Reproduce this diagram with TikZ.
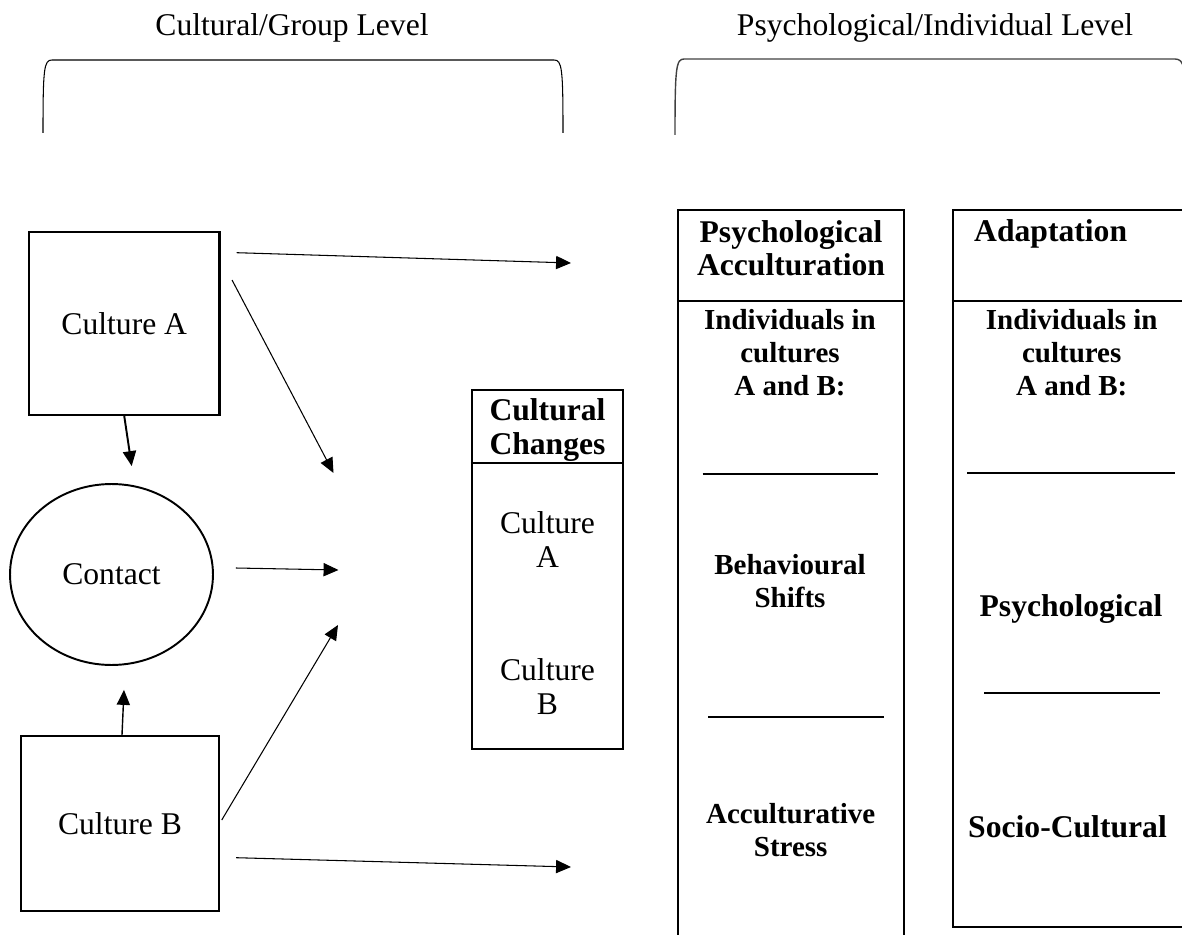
\documentclass[tikz,border=0pt]{standalone}
\usepackage{fontspec}
\setmainfont{Liberation Serif}
\usetikzlibrary{arrows.meta, calc, shapes.geometric}

\begin{document}
\begin{tikzpicture}[x=0.02cm, y=-0.02cm]

\tikzset{lbl/.style = {font=\fontsize{18}{19.3}\selectfont}}
\tikzset{hd/.style = {font=\fontsize{18}{19.3}\selectfont\bfseries, align=center}}
\tikzset{hdsm/.style = {font=\fontsize{16.5}{18.7}\selectfont\bfseries, align=center}}
\tikzset{box/.style = {shape=rectangle, draw, line width=1.2pt, inner sep=0pt}}
\tikzset{edge/.style = {-{Triangle[length=8.5pt,width=7.5pt]}, line width=0.6pt}}
\tikzset{rule/.style = {line width=1.2pt}}
\tikzset{blank/.style = {line width=0.75pt}}
\tikzset{brace/.style = {line width=0.6pt}}

\useasboundingbox (0,0) rectangle (1182,935);

%headings
\node[lbl, anchor=base] (grp) at (292,35.5) {Cultural/Group Level};
\node[lbl, anchor=base] (ind) at (935,36) {Psychological/Individual Level};
%brackets
\draw[brace] (43,133) .. controls (43,68) and (44,60) .. (52,60) -- (554,60)
  .. controls (562,60) and (563,68) .. (563,133);
\draw[brace, black!75, line width=0.8pt] (675,135) .. controls (675,68) and (676,59) .. (684,59)
  -- (1175,59) .. controls (1180,59) and (1182,62) .. (1183,66);

%group level
\node[box, lbl, minimum width=3.81cm, minimum height=3.66cm] (cultA) at (124.25,323.5) {Culture A};
\node[box, lbl, shape=ellipse, line width=1.1pt, minimum width=4.06cm, minimum height=3.62cm] (contact) at (111.5,574.5) {Contact};
\node[box, lbl, minimum width=3.96cm, minimum height=3.5cm] (cultB) at (120,823.5) {Culture B};
\node[box, minimum width=3.02cm, minimum height=7.18cm] (chg) at (547.5,569.5) {};
\draw[rule] ($(chg.north west)+(0,74)$) -- ($(chg.north east)+(0,74)$);
\node[hd] (chgHead) at (547.5,430) {Cultural\\Changes};
\node[lbl, align=center] (chgA) at (547.5,539.8) {Culture\\A};
\node[lbl, align=center] (chgB) at (547.5,686.5) {Culture\\B};

%individual level
\node[box, minimum width=4.52cm, minimum height=14.7cm] (psy) at (791,577.5) {};
\draw[rule] ($(psy.north west)+(0,91.7)$) -- ($(psy.north east)+(0,91.7)$);
\node[hd] (psyHead) at (791,248.2) {Psychological\\Acculturation};
\node[hdsm] (psyInd) at (790,353) {Individuals in\\cultures\\A and B:};
\node[hdsm] (psyBeh) at (790,581.5) {Behavioural\\Shifts};
\node[hdsm] (psyStr) at (790.7,830.5) {Acculturative\\Stress};
\draw[blank] (702.7,474) -- (878,474);
\draw[blank] (708,717) -- (884,717);

\node[box, minimum width=4.74cm, minimum height=14.34cm] (adp) at (1071.5,568.5) {};
\draw[rule] ($(adp.north west)+(0,91.7)$) -- ($(adp.north east)+(0,91.7)$);
\node[hd, anchor=base west] (adpHead) at (968,241.7) {Adaptation};
\node[hdsm] (adpInd) at (1071.7,353) {Individuals in\\cultures\\A and B:};
\node[hd, anchor=base] (adpPsy) at (1071,616.7) {Psychological};
\node[hd, anchor=base] (adpSoc) at (1067.5,837.3) {Socio-Cultural};
\draw[blank] (967,473) -- (1175,473);
\draw[blank] (984,693) -- (1160,693);

%edges
\coordinate (tipAR) at (571,263);
\coordinate (tipAD) at (333.5,473);
\coordinate (tipC) at (338.5,570);
\coordinate (tipBD) at (338,625);
\coordinate (tipBR) at (571,867);
\draw[edge] ($(cultA.east)+(16,-70.8)$) -- (tipAR);
\draw[edge] ($(cultA.east)+(11.5,-43.5)$) -- (tipAD);
\draw[edge, line width=1.1pt] (cultA.south) -- ($(contact.north)+(20.2,-17)$);
\draw[edge] ($(contact.east)+(22,-6.5)$) -- (tipC);
\draw[edge, line width=0.8pt] ($(cultB.north)+(2,0)$) -- ($(contact.south)+(12.5,24)$);
\draw[edge] ($(cultB.east)+(1.7,-3.5)$) -- (tipBD);
\draw[edge] ($(cultB.east)+(16,34.2)$) -- (tipBR);

\end{tikzpicture}
\end{document}
